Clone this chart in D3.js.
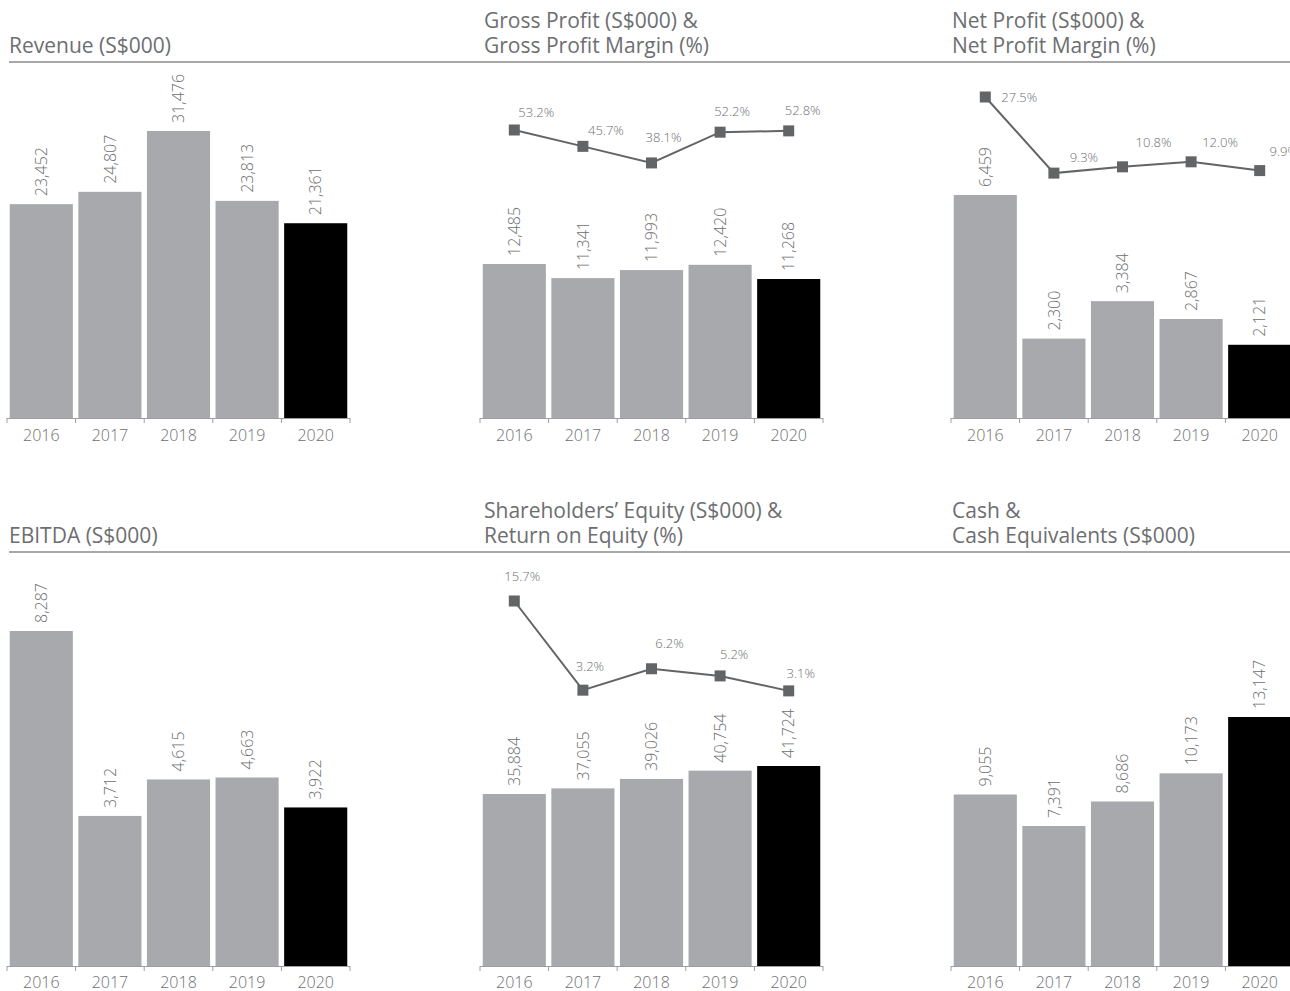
<!DOCTYPE html>
<html>
<head>
<meta charset="utf-8">
<script src="https://cdn.jsdelivr.net/npm/d3@7"></script>
<style>
  html, body { margin: 0; padding: 0; background: #fff; }
  svg { display: block; font-family: "Open Sans", "Noto Sans", sans-serif; }
</style>
</head>
<body>
<svg id="chart" width="1290" height="991"></svg>
<script>
// Five financial years
const years = ["2016", "2017", "2018", "2019", "2020"];

// S$000 series
const revenue     = [23452, 24807, 31476, 23813, 21361];
const grossProfit = [12485, 11341, 11993, 12420, 11268];
const netProfit   = [6459, 2300, 3384, 2867, 2121];
const ebitda      = [8287, 3712, 4615, 4663, 3922];
const equity      = [35884, 37055, 39026, 40754, 41724];
const cash        = [9055, 7391, 8686, 10173, 13147];

// Percentage series
const grossMargin = [53.2, 45.7, 38.1, 52.2, 52.8];
const netMargin   = [27.5, 9.3, 10.8, 12.0, 9.9];
const roe         = [15.7, 3.2, 6.2, 5.2, 3.1];

// Panel titles
const titleRevenue = ["Revenue (S$000)"];
const titleGross   = ["Gross Profit (S$000) &", "Gross Profit Margin (%)"];
const titleNet     = ["Net Profit (S$000) &", "Net Profit Margin (%)"];
const titleEbitda  = ["EBITDA (S$000)"];
const titleEquity  = ["Shareholders’ Equity (S$000) &", "Return on Equity (%)"];
const titleCash    = ["Cash &", "Cash Equivalents (S$000)"];

// ---- layout ----
const W = 1290;
const rows = [
  { base: 418, rule: 62,  title: 53,  yearY: 441 },
  { base: 966, rule: 552, title: 543, yearY: 988 }
];
const cols = [7, 480, 951];
const titleX = [9, 484, 952];
const colW = 343;

const GREY_TEXT = "#6d6e71";
const BAR_GREY = "#a7a9ac";
const LINE_GREY = "#636466";

const panels = [
  { row: 0, col: 0, title: titleRevenue, bars: revenue,     barTop: 131 },
  { row: 0, col: 1, title: titleGross,   bars: grossProfit, barTop: 264,
    line: grossMargin, lineRange: [246, 130],
    lblOff: [[22, -13], [23, -11], [12, -21], [12, -16], [14, -16]] },
  { row: 0, col: 2, title: titleNet,     bars: netProfit,   barTop: 195,
    line: netMargin, lineRange: [212, 97],
    lblOff: [[34, 5], [30, -11], [31, -20], [29, -15], [24, -15]] },
  { row: 1, col: 0, title: titleEbitda,  bars: ebitda,      barTop: 631 },
  { row: 1, col: 1, title: titleEquity,  bars: equity,      barTop: 766,
    line: roe, lineRange: [713, 601],
    lblOff: [[8, -20], [7, -19], [18, -21], [14, -17], [12, -13]] },
  { row: 1, col: 2, title: titleCash,    bars: cash,        barTop: 717 }
];

const svg = d3.select("#chart");
const fmt = d3.format(",");

// Section rules under the titles
rows.forEach(r => {
  svg.append("line")
    .attr("x1", 9).attr("x2", W)
    .attr("y1", r.rule).attr("y2", r.rule)
    .attr("stroke", "#8a8b8d").attr("stroke-width", 1.3);
});

panels.forEach(p => {
  const r = rows[p.row];
  const x0 = cols[p.col];
  const g = svg.append("g");

  const x = d3.scaleBand().domain(years).range([x0, x0 + colW])
    .paddingInner(0.08).paddingOuter(0.04);
  const y = d3.scaleLinear().domain([0, d3.max(p.bars)]).range([r.base, p.barTop]);

  // title (one or two lines)
  const lines = p.title;
  lines.forEach((t, i) => {
    g.append("text")
      .attr("x", titleX[p.col])
      .attr("y", r.title - (lines.length - 1 - i) * 25.5)
      .attr("fill", GREY_TEXT)
      .attr("font-size", 21)
      .attr("font-weight", 400)
      .text(t);
  });

  // bars
  g.selectAll("rect.bar").data(p.bars).join("rect")
    .attr("class", "bar")
    .attr("x", (d, i) => x(years[i]))
    .attr("width", x.bandwidth())
    .attr("y", d => y(d))
    .attr("height", d => r.base - y(d))
    .attr("fill", (d, i) => i === years.length - 1 ? "#000" : BAR_GREY);

  // rotated value labels above bars
  g.selectAll("text.val").data(p.bars).join("text")
    .attr("class", "val")
    .attr("transform", (d, i) =>
      `translate(${x(years[i]) + x.bandwidth() / 2},${y(d) - 8}) rotate(-90)`)
    .attr("dy", "0.35em")
    .attr("fill", GREY_TEXT)
    .attr("font-size", 16)
    .attr("font-weight", 300)
    .text(d => fmt(d));

  // x axis: baseline, boundary ticks and year labels
  const step = x.step();
  g.append("line")
    .attr("x1", x0).attr("x2", x0 + colW)
    .attr("y1", r.base + 0.5).attr("y2", r.base + 0.5)
    .attr("stroke", "#9d9ea0").attr("stroke-width", 1);
  d3.range(years.length + 1).forEach(i => {
    const tx = x0 + i * step;
    g.append("line")
      .attr("x1", tx).attr("x2", tx)
      .attr("y1", r.base).attr("y2", r.base + 5)
      .attr("stroke", "#9d9ea0").attr("stroke-width", 1);
  });
  g.selectAll("text.year").data(years).join("text")
    .attr("class", "year")
    .attr("x", d => x(d) + x.bandwidth() / 2)
    .attr("y", r.yearY)
    .attr("text-anchor", "middle")
    .attr("fill", GREY_TEXT)
    .attr("font-size", 16)
    .attr("font-weight", 300)
    .text(d => d);

  // percentage line with square markers
  if (p.line) {
    const yl = d3.scaleLinear().domain([0, d3.max(p.line)]).range(p.lineRange);
    const cx = i => x(years[i]) + x.bandwidth() / 2;
    const lineGen = d3.line().x((d, i) => cx(i)).y(d => yl(d));
    g.append("path")
      .attr("d", lineGen(p.line))
      .attr("fill", "none")
      .attr("stroke", LINE_GREY)
      .attr("stroke-width", 2);
    const s = 11;
    g.selectAll("rect.mk").data(p.line).join("rect")
      .attr("class", "mk")
      .attr("x", (d, i) => cx(i) - s / 2)
      .attr("y", d => yl(d) - s / 2)
      .attr("width", s).attr("height", s)
      .attr("fill", LINE_GREY);
    g.selectAll("text.pct").data(p.line).join("text")
      .attr("class", "pct")
      .attr("x", (d, i) => cx(i) + p.lblOff[i][0])
      .attr("y", (d, i) => yl(d) + p.lblOff[i][1])
      .attr("text-anchor", "middle")
      .attr("fill", GREY_TEXT)
      .attr("font-size", 13)
      .attr("font-weight", 300)
      .text(d => d.toFixed(1) + "%");
  }
});
</script>
</body>
</html>
